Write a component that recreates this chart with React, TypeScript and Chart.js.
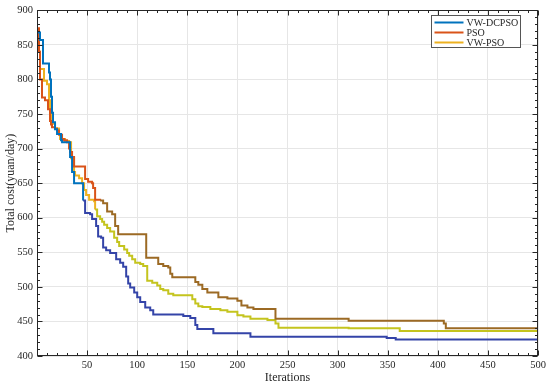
import { useEffect, useRef } from 'react';
import { Chart, registerables } from 'chart.js';

Chart.register(...registerables);

const seriesNames = ['VW-DCPSO', 'PSO', 'VW-PSO'];

const dcpsoIter = [1, 3, 6, 12, 13, 14, 15, 16, 18, 20, 24, 25, 33, 35, 37, 46, 48, 53, 55, 59, 61, 64, 66, 69, 73, 79, 83, 86, 89, 91, 93, 97, 100, 103, 108, 113, 116, 146, 153, 158, 160, 176, 213, 349, 358, 500];
const dcpsoCost = [868, 857, 823, 810, 800, 775, 752, 738, 728, 721, 712, 709, 688, 666, 650, 625, 607, 605, 598, 588, 573, 571, 557, 553, 549, 540, 535, 529, 515, 505, 499, 492, 485, 478, 470, 466, 460, 458, 455, 445, 439, 433, 428, 426, 424, 424];

const psoIter = [1, 2, 3, 5, 8, 11, 13, 14, 15, 18, 20, 22, 25, 27, 30, 32, 33, 35, 37, 48, 51, 55, 56, 58, 63, 66, 70, 75, 78, 81, 109, 121, 126, 131, 133, 135, 158, 161, 165, 170, 181, 190, 200, 204, 210, 216, 238, 311, 406, 408, 500];
const psoCost = [874, 840, 800, 774, 770, 757, 740, 735, 731, 729, 726, 720, 714, 712, 709, 700, 695, 688, 674, 656, 652, 650, 643, 626, 625, 621, 609, 605, 588, 576, 542, 533, 530, 528, 519, 514, 507, 503, 497, 492, 485, 483, 480, 473, 470, 468, 454, 451, 447, 440, 440];

const vwpsoIter = [1, 2, 3, 7, 10, 12, 13, 15, 18, 22, 23, 28, 32, 34, 37, 38, 42, 45, 47, 49, 52, 57, 58, 60, 63, 65, 67, 70, 73, 77, 80, 82, 87, 90, 92, 95, 98, 103, 106, 110, 115, 120, 123, 126, 131, 136, 155, 158, 161, 165, 173, 183, 190, 200, 206, 213, 230, 238, 241, 311, 362, 500];
const vwpsoCost = [870, 840, 815, 798, 793, 770, 752, 736, 729, 721, 714, 711, 709, 686, 666, 661, 657, 650, 640, 633, 626, 624, 612, 602, 598, 594, 590, 585, 580, 571, 565, 559, 554, 549, 545, 540, 535, 533, 530, 509, 506, 502, 497, 495, 490, 488, 482, 476, 472, 471, 468, 466, 464, 459, 457, 454, 452, 447, 441, 440, 436, 436];

const legendColors = ['#0072BD', '#D95319', '#EDB120'];
const lateColors = ['#3444a8', '#9c6a24', '#c4c41e'];
const colorSwitchAt = [46, 61, 58];

const xMin = 0, xMax = 500, xStep = 50, xMinor = 10;
const yMin = 400, yMax = 900, yStep = 50, yMinor = 10;

const FONT = "'Liberation Serif', 'Times New Roman', serif";
const TEXT = '#262626';

const zip = (xs: number[], ys: number[]) => xs.map((x, i) => ({ x, y: ys[i] }));

const framePlugin = {
  id: 'frameTicks',
  afterDraw(chart: any) {
    const { ctx, chartArea: a, scales } = chart;
    const xs = scales.x, ys = scales.y;
    ctx.save();
    ctx.strokeStyle = TEXT;
    ctx.lineWidth = 1;
    const L = Math.round(a.left) + 0.5, R = Math.round(a.right) - 0.5;
    const T = Math.round(a.top) + 0.5, B = Math.round(a.bottom) - 0.5;
    ctx.beginPath();
    for (let v = xMin; v <= xMax; v += xMinor) {
      const p = Math.round(xs.getPixelForValue(v)) + 0.5;
      const len = v % xStep === 0 ? 5 : 2.5;
      ctx.moveTo(p, B); ctx.lineTo(p, B - len);
      ctx.moveTo(p, T); ctx.lineTo(p, T + len);
    }
    for (let v = yMin; v <= yMax; v += yMinor) {
      const p = Math.round(ys.getPixelForValue(v)) + 0.5;
      const len = v % yStep === 0 ? 5 : 2.5;
      ctx.moveTo(L, p); ctx.lineTo(L + len, p);
      ctx.moveTo(R, p); ctx.lineTo(R - len, p);
    }
    ctx.stroke();
    ctx.strokeRect(L, T, R - L, B - T);

    // legend box
    const bx = Math.round(a.right - 107) + 0.5, by = Math.round(a.top + 5) + 0.5;
    const bw = 89, bh = 32;
    ctx.fillStyle = '#ffffff';
    ctx.fillRect(bx, by, bw, bh);
    ctx.strokeStyle = '#555555';
    ctx.strokeRect(bx, by, bw, bh);
    ctx.font = `10px ${FONT}`;
    ctx.textBaseline = 'middle';
    ctx.textAlign = 'left';
    chart.data.datasets.forEach((ds: any, i: number) => {
      const yy = by + 7 + i * 10;
      ctx.strokeStyle = legendColors[i];
      ctx.lineWidth = 2;
      ctx.beginPath();
      ctx.moveTo(bx + 3, yy);
      ctx.lineTo(bx + 32, yy);
      ctx.stroke();
      ctx.fillStyle = TEXT;
      ctx.fillText(ds.label, bx + 35, yy + 0.5);
    });
    ctx.restore();
  },
};

export default function App() {
  const ref = useRef<HTMLCanvasElement>(null);
  useEffect(() => {
    if (!ref.current) return;
    const sets = [zip(dcpsoIter, dcpsoCost), zip(psoIter, psoCost), zip(vwpsoIter, vwpsoCost)];
    const chart = new Chart(ref.current, {
      type: 'line',
      data: {
        datasets: sets.map((d, i) => ({
          label: seriesNames[i],
          data: d,
          stepped: true,
          borderColor: legendColors[i],
          borderWidth: 2,
          pointRadius: 0,
          fill: false,
          segment: {
            borderColor: (c: any) => (c.p0.parsed.x < colorSwitchAt[i] ? legendColors[i] : lateColors[i]),
          },
        })),
      },
      options: {
        animation: false,
        responsive: false,
        devicePixelRatio: 1,
        layout: { padding: { left: 0, right: 12, top: 7, bottom: 0 } },
        plugins: { legend: { display: false }, tooltip: { enabled: false } },
        scales: {
          x: {
            type: 'linear',
            min: xMin,
            max: xMax,
            afterFit: (s: any) => { s.height = 30; },
            ticks: {
              stepSize: xStep,
              color: TEXT,
              font: { family: FONT, size: 10.5 },
              padding: 3,
              maxRotation: 0,
              callback: (v: any) => (v === xMin ? '' : String(v)),
            },
            grid: { color: '#e6e6e6', drawTicks: false, lineWidth: 1 },
            border: { display: false },
            title: { display: true, text: 'Iterations', color: TEXT, font: { family: FONT, size: 12 }, padding: { top: 0, bottom: 1 } },
          },
          y: {
            type: 'linear',
            min: yMin,
            max: yMax,
            afterFit: (s: any) => { s.width = 37; },
            ticks: {
              stepSize: yStep,
              color: TEXT,
              font: { family: FONT, size: 10.5 },
              padding: 4,
            },
            grid: { color: '#e6e6e6', drawTicks: false, lineWidth: 1 },
            border: { display: false },
            title: { display: true, text: 'Total cost(yuan/day)', color: TEXT, font: { family: FONT, size: 12 }, padding: { top: 4, bottom: 0 } },
          },
        },
      },
      plugins: [framePlugin],
    });
    return () => chart.destroy();
  }, []);
  return (
    <div style={{ position: 'absolute', left: 0, top: 0, width: 550, height: 386, background: '#fff' }}>
      <canvas ref={ref} width={550} height={386} style={{ display: 'block' }} />
    </div>
  );
}
